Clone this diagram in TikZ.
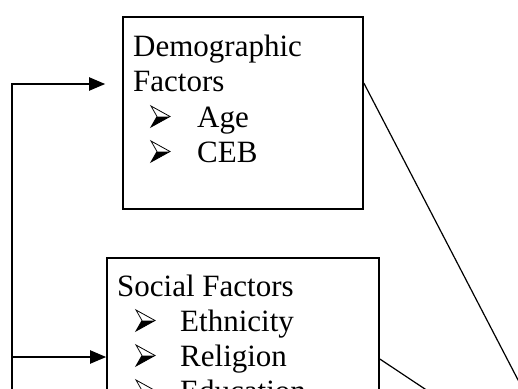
\documentclass[tikz,border=0pt]{standalone}
\usepackage{fontspec}
\setmainfont{Liberation Serif}
\usetikzlibrary{arrows.meta}
\begin{document}
\begin{tikzpicture}[x=1pt,y=-1pt,
  box/.style={draw,line width=1.6pt,rectangle,inner sep=0pt},
  txt/.style={anchor=base west,inner sep=0pt,font=\fontsize{31}{35}\selectfont},
  bulletmark/.pic={
    \fill[black] (6,-10.5) -- (19,-10.5) -- (0,0) -- cycle;
    \draw[line width=0.8pt,line join=miter] (0,-21) -- (19,-10.5) -- (0,0) -- (6,-10.5) -- cycle;
  },
  feed/.style={line width=2pt,-{Triangle[length=16pt,width=13pt]}},
  link/.style={line width=1.2pt}]
\useasboundingbox (0,0) rectangle (518,388);
\clip (0,0) rectangle (518,388);
\node[box,minimum width=240pt,minimum height=192pt] (demo) at (243,113) {};
\node[box,minimum width=272pt,minimum height=242pt] (soc) at (243,379) {};
% texts
\node[txt] (d1) at (133,56) {Demographic};
\node[txt] (d2) at (133,91) {Factors};
\pic at (151,127) {bulletmark};
\node[txt] (d3) at (197,127) {Age};
\pic at (151,162) {bulletmark};
\node[txt] (d4) at (197,162) {CEB};
\node[txt] (s1) at (117,296) {Social Factors};
\pic at (136,331) {bulletmark};
\node[txt] (s2) at (180,331) {Ethnicity};
\pic at (136,366) {bulletmark};
\node[txt] (s3) at (180,366) {Religion};
\pic at (136,401) {bulletmark};
\node[txt] (s4) at (180,401) {Education};
% connectors
\coordinate (bot) at (12,420);
\coordinate (top) at (12,84);
\coordinate (j2) at (12,357);
\coordinate (dend) at (530,403);
\coordinate (send) at (440,399);
\draw[feed] (bot) -- (top) -- ([xshift=-17pt,yshift=29pt]demo.west);
\draw[feed] (j2) -- ([yshift=22pt]soc.west);
\draw[link] ([yshift=30pt]demo.east) -- (dend);
\draw[link] ([yshift=20pt]soc.east) -- (send);
\end{tikzpicture}
\end{document}
